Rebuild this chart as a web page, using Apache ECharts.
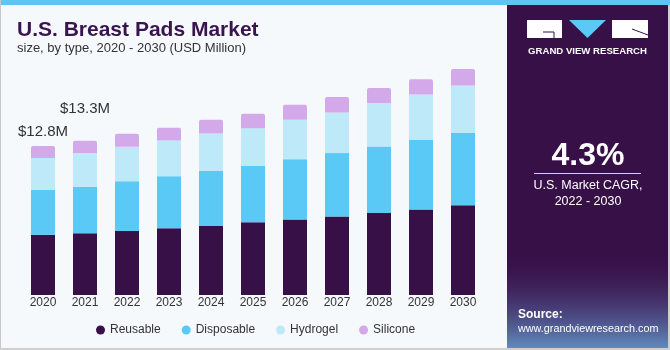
<!DOCTYPE html>
<html>
<head>
<meta charset="utf-8">
<script src="https://cdn.jsdelivr.net/npm/echarts@6/dist/echarts.min.js"></script>
<style>
  html, body { margin: 0; padding: 0; background: #f5f9fc; }
  #chart { width: 670px; height: 350px; }
</style>
</head>
<body>
<div id="chart"></div>
<script>
  // values (USD Million)
  const years = ['2020', '2021', '2022', '2023', '2024', '2025', '2026', '2027', '2028', '2029', '2030'];
  const reusable = [5.18, 5.30, 5.50, 5.73, 5.93, 6.24, 6.47, 6.73, 7.04, 7.33, 7.71];
  const disposable = [3.84, 4.00, 4.27, 4.47, 4.73, 4.84, 5.19, 5.45, 5.70, 5.99, 6.21];
  const hydrogel = [2.75, 2.89, 2.95, 3.06, 3.20, 3.24, 3.38, 3.49, 3.73, 3.89, 4.06];
  const silicone = [1.03, 1.06, 1.12, 1.09, 1.18, 1.23, 1.29, 1.32, 1.29, 1.32, 1.41];
  const totalLabels = ['$12.8M', '$13.3M'];

  const font = '"Liberation Sans", Arial, sans-serif';
  const colors = {
    reusable: '#371047',
    disposable: '#5bc9f5',
    hydrogel: '#bde9f9',
    silicone: '#d4a9ea',
  };

  const siliconeData = silicone.map(function (v, i) {
    if (i < totalLabels.length) {
      return {
        value: v,
        label: {
          show: true,
          position: 'top',
          distance: i === 0 ? 7 : 24,
          formatter: totalLabels[i],
          fontSize: 15,
          color: '#333',
          fontFamily: font,
        },
      };
    }
    return v;
  });

  function barSeries(name, data, color, radius) {
    return {
      name: name,
      type: 'bar',
      stack: 'type',
      data: data,
      barWidth: 24,
      itemStyle: { color: color, borderRadius: radius || 0 },
    };
  }

  const chart = echarts.init(document.getElementById('chart'));
  chart.setOption({
    backgroundColor: '#f5f9fc',
    animation: false,
    textStyle: { fontFamily: font },
    grid: { left: 22, right: 186, top: 62, bottom: 55 },
    xAxis: {
      type: 'category',
      data: years,
      axisLine: { show: false },
      axisTick: { show: false },
      axisLabel: { color: '#333', fontSize: 12, margin: 2 },
    },
    yAxis: {
      type: 'value',
      min: 0,
      max: 20,
      show: false,
      splitLine: { show: false },
    },
    legend: {
      left: 91,
      top: 319,
      icon: 'circle',
      itemWidth: 9,
      itemHeight: 9,
      itemGap: 21,
      textStyle: { color: '#333', fontSize: 12 },
      data: ['Reusable', 'Disposable', 'Hydrogel', 'Silicone'],
    },
    series: [
      barSeries('Reusable', reusable, colors.reusable),
      barSeries('Disposable', disposable, colors.disposable),
      barSeries('Hydrogel', hydrogel, colors.hydrogel),
      barSeries('Silicone', siliconeData, colors.silicone, [2, 2, 0, 0]),
    ],
    graphic: [
      // frame
      { type: 'rect', shape: { x: 0, y: 0, width: 670, height: 5 }, style: { fill: '#5cc6f0' } },
      { type: 'rect', shape: { x: 0, y: 0, width: 1, height: 350 }, style: { fill: '#c8c8c8' } },
      { type: 'rect', shape: { x: 0, y: 348, width: 670, height: 2 }, style: { fill: '#cfcfcf' } },
      // title
      {
        type: 'text', left: 17, top: 20,
        style: { text: 'U.S. Breast Pads Market', font: 'bold 21px ' + font, fill: '#3a1450' },
      },
      {
        type: 'text', left: 17, top: 42,
        style: { text: 'size, by type, 2020 - 2030 (USD Million)', font: '13px ' + font, fill: '#333' },
      },
      // right panel
      { type: 'rect', shape: { x: 507, y: 5, width: 163, height: 343 }, style: { fill: '#371047' } },
      {
        type: 'rect', shape: { x: 507, y: 250, width: 163, height: 98 },
        style: {
          fill: new echarts.graphic.LinearGradient(0, 0, 0, 1, [
            { offset: 0, color: 'rgba(55,16,71,0)' },
            { offset: 0.5, color: 'rgba(80,80,140,0.5)' },
            { offset: 1, color: 'rgba(110,180,230,0.75)' },
          ]),
        },
      },
      { type: 'rect', shape: { x: 668, y: 5, width: 2, height: 345 }, style: { fill: '#cfcfcf' } },
      // logo
      { type: 'rect', shape: { x: 527, y: 20, width: 35, height: 18 }, style: { fill: '#ffffff' } },
      { type: 'polyline', shape: { points: [[543, 32], [554, 32], [554, 38]] }, style: { stroke: '#371047', lineWidth: 1, fill: null } },
      { type: 'polygon', shape: { points: [[569, 20], [606, 20], [587.5, 38]] }, style: { fill: '#5bc9f5' } },
      { type: 'rect', shape: { x: 612, y: 20, width: 36, height: 18 }, style: { fill: '#ffffff' } },
      { type: 'line', shape: { x1: 632, y1: 29, x2: 648, y2: 35 }, style: { stroke: '#371047', lineWidth: 1 } },
      {
        type: 'text', x: 587.5, y: 51,
        style: { text: 'GRAND VIEW RESEARCH', font: 'bold 9.6px ' + font, fill: '#ffffff', align: 'center', verticalAlign: 'middle' },
      },
      // CAGR
      {
        type: 'text', x: 588, y: 156,
        style: { text: '4.3%', font: 'bold 32px ' + font, fill: '#ffffff', align: 'center', verticalAlign: 'middle' },
      },
      { type: 'rect', shape: { x: 534, y: 173, width: 107, height: 1 }, style: { fill: '#d8d0de' } },
      {
        type: 'text', x: 588, y: 186,
        style: { text: 'U.S. Market CAGR,', font: '12.5px ' + font, fill: '#ffffff', align: 'center', verticalAlign: 'middle' },
      },
      {
        type: 'text', x: 588, y: 202,
        style: { text: '2022 - 2030', font: '12.5px ' + font, fill: '#ffffff', align: 'center', verticalAlign: 'middle' },
      },
      // source
      {
        type: 'text', left: 518, top: 309,
        style: { text: 'Source:', font: 'bold 12px ' + font, fill: '#ffffff' },
      },
      {
        type: 'text', left: 518, top: 324,
        style: { text: 'www.grandviewresearch.com', font: '10.8px ' + font, fill: '#ffffff' },
      },
    ],
  });
</script>
</body>
</html>
